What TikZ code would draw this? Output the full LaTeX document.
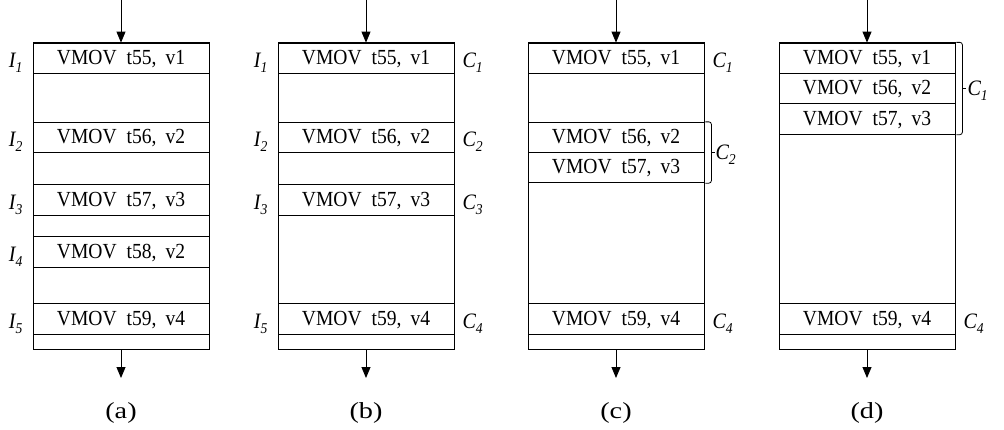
\documentclass[tikz,border=0pt]{standalone}
\usepackage{fontspec}
\setmainfont[FakeStretch=0.91]{Liberation Serif}
\usetikzlibrary{arrows.meta,calc}
\begin{document}
\begin{tikzpicture}[x=1pt,y=-1pt,
  frame/.style={draw,line width=0.8pt,minimum width=176pt,inner sep=0pt},
  instr/.style={draw,line width=0.8pt,minimum width=176pt,minimum height=30.5pt,inner sep=0pt,
    text height=15pt,text depth=3pt,font=\fontsize{21.5}{22}\selectfont},
  lbl/.style={font=\fontsize{22}{24}\selectfont\itshape,inner sep=0pt},
  subcap/.style={font=\fontsize{23}{26}\selectfont,inner sep=0pt},
  flow/.style={line width=0.9pt,-{Triangle[length=11pt,width=9pt]}},
  grp/.style={line width=0.8pt,rounded corners=2.5pt}]
\useasboundingbox (0,0) rectangle (1004,429);
\newcommand{\mv}[2]{VMOV\hspace{10pt}#1,\hspace{9pt}#2}
\newcommand{\sub}[2]{#1\raisebox{-5pt}{\fontsize{15}{15}\selectfont #2}}
\newcommand{\pan}[1]{\scalebox{1.35}[1]{(#1)}}

% ---------- (a) ----------
\node[frame,minimum height=306pt] (fa) at (121,196) {};
\node[instr] (a1) at (121,58) {\mv{t55}{v1}};
\node[instr] (a2) at (121,137.5) {\mv{t56}{v2}};
\node[instr] (a3) at (121,200) {\mv{t57}{v3}};
\node[instr] (a4) at (121,252) {\mv{t58}{v2}};
\node[instr] (a5) at (121,319) {\mv{t59}{v4}};
\node[lbl,anchor=base east] (ia1) at ([xshift=-10pt,yshift=-3pt]a1.base west) {\sub{I}{1}};
\node[lbl,anchor=base east] (ia2) at ([xshift=-10pt,yshift=-3pt]a2.base west) {\sub{I}{2}};
\node[lbl,anchor=base east] (ia3) at ([xshift=-10pt,yshift=-3pt]a3.base west) {\sub{I}{3}};
\node[lbl,anchor=base east] (ia4) at ([xshift=-10pt,yshift=-3pt]a4.base west) {\sub{I}{4}};
\node[lbl,anchor=base east] (ia5) at ([xshift=-10pt,yshift=-3pt]a5.base west) {\sub{I}{5}};
\coordinate (ina) at (121,0);
\coordinate (outa) at (121,378);
\draw[flow] (ina) -- (fa.north);
\draw[flow] (fa.south) -- (outa);
\node[subcap,anchor=base] (ca) at (121,418) {\pan{a}};

% ---------- (b) ----------
\node[frame,minimum height=306pt] (fb) at (366,196) {};
\node[instr] (b1) at (366,58) {\mv{t55}{v1}};
\node[instr] (b2) at (366,137.5) {\mv{t56}{v2}};
\node[instr] (b3) at (366,200) {\mv{t57}{v3}};
\node[instr] (b5) at (366,319) {\mv{t59}{v4}};
\node[lbl,anchor=base east] (ib1) at ([xshift=-10pt,yshift=-3pt]b1.base west) {\sub{I}{1}};
\node[lbl,anchor=base east] (ib2) at ([xshift=-10pt,yshift=-3pt]b2.base west) {\sub{I}{2}};
\node[lbl,anchor=base east] (ib3) at ([xshift=-10pt,yshift=-3pt]b3.base west) {\sub{I}{3}};
\node[lbl,anchor=base east] (ib5) at ([xshift=-10pt,yshift=-3pt]b5.base west) {\sub{I}{5}};
\node[lbl,anchor=base west] (cb1) at ([xshift=8pt,yshift=-3pt]b1.base east) {\sub{C}{1}};
\node[lbl,anchor=base west] (cb2) at ([xshift=8pt,yshift=-3pt]b2.base east) {\sub{C}{2}};
\node[lbl,anchor=base west] (cb3) at ([xshift=8pt,yshift=-3pt]b3.base east) {\sub{C}{3}};
\node[lbl,anchor=base west] (cb4) at ([xshift=8pt,yshift=-3pt]b5.base east) {\sub{C}{4}};
\coordinate (inb) at (366,0);
\coordinate (outb) at (366,378);
\draw[flow] (inb) -- (fb.north);
\draw[flow] (fb.south) -- (outb);
\node[subcap,anchor=base] (cbl) at (366,418) {\pan{b}};

% ---------- (c) ----------
\node[frame,minimum height=306pt] (fc) at (616,196) {};
\node[instr] (c1) at (616,58) {\mv{t55}{v1}};
\node[instr] (c2) at (616,137.5) {\mv{t56}{v2}};
\node[instr] (c3) at (616,167.5) {\mv{t57}{v3}};
\node[instr] (c5) at (616,319) {\mv{t59}{v4}};
\node[lbl,anchor=base west] (cc1) at ([xshift=8pt,yshift=-3pt]c1.base east) {\sub{C}{1}};
\node[lbl,anchor=base west] (cc4) at ([xshift=8pt,yshift=-3pt]c5.base east) {\sub{C}{4}};
% bracket grouping two instructions
\coordinate (gc) at ($(c2.north east)!.5!(c3.south east)$);
\draw[grp] ([xshift=1pt]c2.north east) -- ([xshift=7pt]c2.north east)
  -- ([xshift=7pt]c3.south east) -- ([xshift=1pt]c3.south east);
\draw[line width=0.8pt] ([xshift=7pt]gc) -- ([xshift=11pt]gc);
\node[lbl,anchor=west] (cc2) at ([xshift=11pt,yshift=-2pt]gc) {\sub{C}{2}};
\coordinate (inc) at (616,0);
\coordinate (outc) at (616,378);
\draw[flow] (inc) -- (fc.north);
\draw[flow] (fc.south) -- (outc);
\node[subcap,anchor=base] (ccl) at (616,418) {\pan{c}};

% ---------- (d) ----------
\node[frame,minimum height=306pt] (fd) at (867,196) {};
\node[instr] (d1) at (867,58) {\mv{t55}{v1}};
\node[instr] (d2) at (867,88.5) {\mv{t56}{v2}};
\node[instr] (d3) at (867,119) {\mv{t57}{v3}};
\node[instr] (d5) at (867,319) {\mv{t59}{v4}};
\node[lbl,anchor=base west] (cd4) at ([xshift=8pt,yshift=-3pt]d5.base east) {\sub{C}{4}};
% bracket grouping three instructions
\coordinate (gd) at ($(d1.north east)!.5!(d3.south east)$);
\draw[grp] ([xshift=1pt]d1.north east) -- ([xshift=7pt]d1.north east)
  -- ([xshift=7pt]d3.south east) -- ([xshift=1pt]d3.south east);
\draw[line width=0.8pt] ([xshift=7pt]gd) -- ([xshift=11pt]gd);
\node[lbl,anchor=west] (cd1) at ([xshift=12pt,yshift=-2pt]gd) {\sub{C}{1}};
\coordinate (ind) at (867,0);
\coordinate (outd) at (867,378);
\draw[flow] (ind) -- (fd.north);
\draw[flow] (fd.south) -- (outd);
\node[subcap,anchor=base] (cdl) at (867,418) {\pan{d}};
\end{tikzpicture}
\end{document}
